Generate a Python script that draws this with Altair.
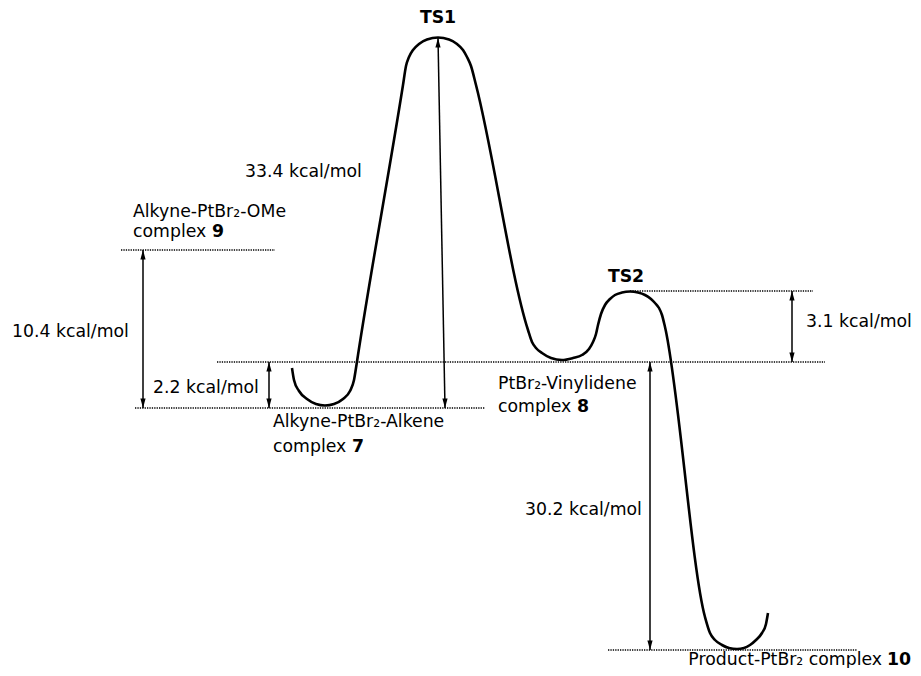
import altair as alt
import pandas as pd

# ---- energy profile path (diagram coordinates) ----
curve_x = [292, 294, 299, 307, 316, 325, 334, 343, 350, 354, 356, 358,
           403, 406, 409, 413, 419, 427, 438, 449, 457, 463, 467, 471, 476,
           528, 532, 536, 542, 551, 562, 573, 582, 589, 593, 596, 598, 601,
           605, 610, 615, 622, 630, 638, 645, 651, 655, 659, 662, 665,
           705, 710, 715, 722, 729, 737, 744, 750, 756, 762, 766, 768]
curve_y = [368, 380, 391, 399, 404, 405.5, 404, 399, 391, 380, 368, 355,
           85, 66, 57, 50, 44, 39.5, 37.5, 39.5, 44, 50, 57, 66, 85,
           330, 342, 348, 353, 358, 360, 358, 355, 349, 342, 334, 325, 314,
           305, 299, 295, 292.5, 291.5, 292.5, 295, 299, 303, 308, 315, 327,
           617, 633, 640, 645, 648, 649, 648, 645, 640, 633, 624, 613]

# ---- dotted reference levels ----
level_name = ["complex 9", "complex 8", "complex 7", "TS2", "complex 10"]
level_y = [250, 362, 408, 291, 650]
level_x1 = [121, 217, 135, 630, 608]
level_x2 = [275, 825, 485, 813, 857]

# ---- double-headed energy arrows ----
arrow_label = ["10.4", "2.2", "33.4", "3.1", "30.2"]
arrow_x_top = [143, 269, 438, 792, 650]
arrow_y_top = [250, 362, 38, 291, 362]
arrow_x_bot = [143, 269, 445, 792, 650]
arrow_y_bot = [408, 408, 408, 362, 650]

# ---- text labels ----
label_text = ["TS1", "33.4 kcal/mol", "Alkyne-PtBr\u2082-OMe", "complex", "9",
              "10.4 kcal/mol", "2.2 kcal/mol", "Alkyne-PtBr\u2082-Alkene",
              "complex", "7", "PtBr\u2082-Vinylidene", "complex", "8", "TS2",
              "3.1 kcal/mol", "30.2 kcal/mol", "Product-PtBr\u2082 complex", "10"]
label_x = [438, 245, 133, 133, 212, 12, 153, 273, 273, 352, 498, 498, 577,
           626, 806, 525, 882, 887]
label_y = [23, 177, 217, 237, 237, 337, 393, 427, 452, 452, 389, 412, 412,
           282, 327, 515, 665, 665]
label_style = ["bold-center", "normal-left", "normal-left", "normal-left", "bold-left",
               "normal-left", "normal-left", "normal-left", "normal-left", "bold-left",
               "normal-left", "normal-left", "bold-left", "bold-center",
               "normal-left", "normal-left", "normal-right", "bold-left"]

W, H = 905, 660
xs = alt.Scale(domain=[8, 8 + W], nice=False, zero=False)
ys = alt.Scale(domain=[8, 8 + H], nice=False, zero=False, reverse=True)

curve_df = pd.DataFrame({"x": curve_x, "y": curve_y, "order": list(range(len(curve_x)))})
level_df = pd.DataFrame({"name": level_name, "y": level_y, "x1": level_x1, "x2": level_x2})
arrow_df = pd.DataFrame({"label": arrow_label, "xt": arrow_x_top, "yt": arrow_y_top,
                         "xb": arrow_x_bot, "yb": arrow_y_bot})
label_df = pd.DataFrame({"text": label_text, "x": label_x, "y": label_y, "style": label_style})

FONT = "DejaVu Sans"
FS = 17.3

curve = alt.Chart(curve_df).mark_line(
    interpolate="monotone", color="black", strokeWidth=2.6
).encode(
    x=alt.X("x:Q", scale=xs, axis=None),
    y=alt.Y("y:Q", scale=ys, axis=None),
    order="order:Q",
)

levels = alt.Chart(level_df).mark_rule(
    color="black", strokeWidth=1.3, strokeDash=[1.3, 1.1]
).encode(
    x=alt.X("x1:Q", scale=xs, axis=None),
    x2="x2:Q",
    y=alt.Y("y:Q", scale=ys, axis=None),
)

shafts = alt.Chart(arrow_df).mark_rule(color="black", strokeWidth=1.5).encode(
    x=alt.X("xt:Q", scale=xs, axis=None),
    x2="xb:Q",
    y=alt.Y("yt:Q", scale=ys, axis=None),
    y2="yb:Q",
)

heads_up = alt.Chart(arrow_df).mark_point(
    shape="M0,-1L0.55,1L-0.55,1Z", filled=True, color="black", size=90,
    opacity=1, yOffset=4.7
).encode(
    x=alt.X("xt:Q", scale=xs, axis=None),
    y=alt.Y("yt:Q", scale=ys, axis=None),
)

heads_down = alt.Chart(arrow_df).mark_point(
    shape="M0,1L0.55,-1L-0.55,-1Z", filled=True, color="black", size=90,
    opacity=1, yOffset=-4.7
).encode(
    x=alt.X("xb:Q", scale=xs, axis=None),
    y=alt.Y("yb:Q", scale=ys, axis=None),
)


def text_layer(style, align, weight):
    return alt.Chart(label_df).transform_filter(
        alt.datum.style == style
    ).mark_text(
        align=align, baseline="alphabetic", font=FONT, fontSize=FS,
        fontWeight=weight, color="black"
    ).encode(
        x=alt.X("x:Q", scale=xs, axis=None),
        y=alt.Y("y:Q", scale=ys, axis=None),
        text="text:N",
    )


texts = [
    text_layer("normal-left", "left", "normal"),
    text_layer("normal-right", "right", "normal"),
    text_layer("bold-left", "left", "bold"),
    text_layer("bold-center", "center", "bold"),
]

chart = alt.layer(levels, shafts, heads_up, heads_down, curve, *texts).properties(
    width=W, height=H, padding=0, autosize=alt.AutoSizeParams(type="none"),
    background="white"
).configure_view(stroke=None)

chart.save("out.html", embed_options={"renderer": "svg", "actions": False})
